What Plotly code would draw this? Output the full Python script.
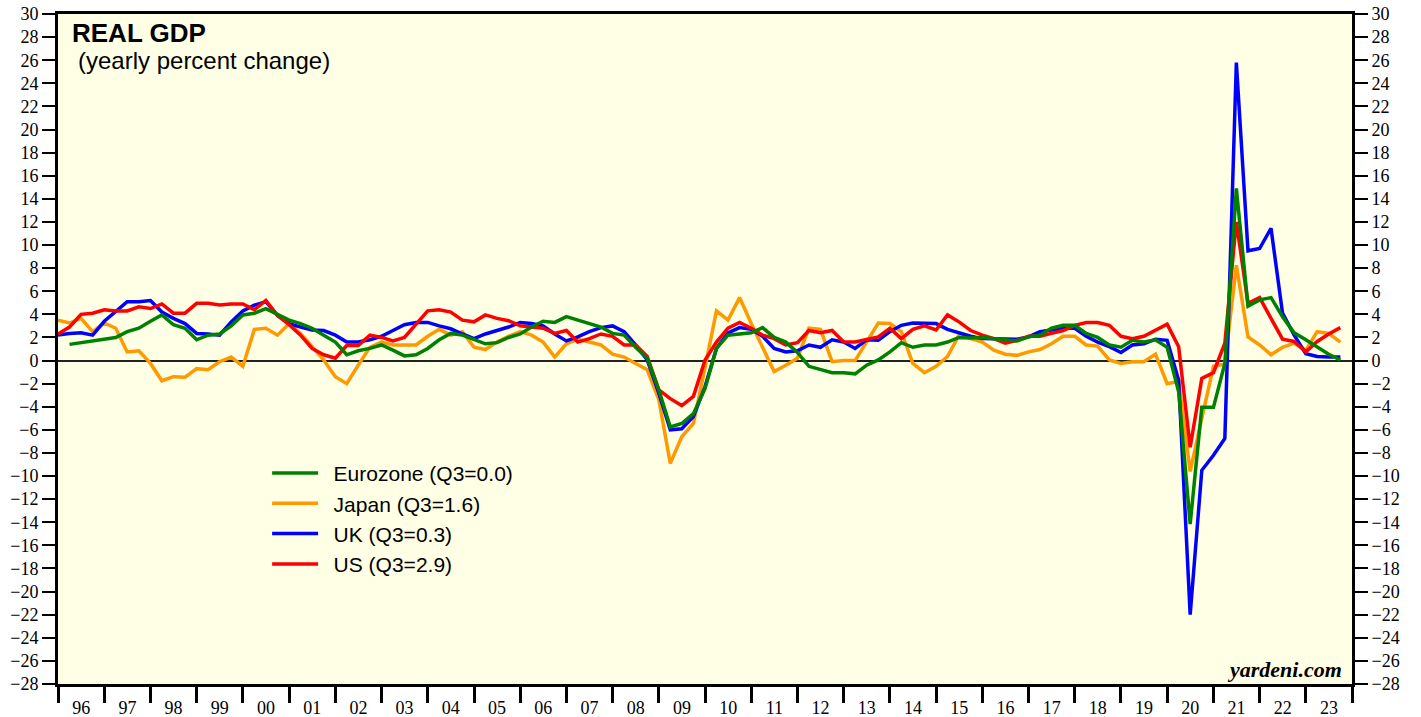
import plotly.graph_objects as go
import pandas as pd

# Quarterly observations, Q4 1995 .. Q3 2023, plotted at the end of each quarter
quarter_ends = pd.date_range("1996-01-01", periods=112, freq="QS")

series_names = ["Eurozone (Q3=0.0)", "Japan (Q3=1.6)", "UK (Q3=0.3)", "US (Q3=2.9)"]
series_colors = ["#008000", "#FF9900", "#0000FF", "#FF0000"]

eurozone = [None,
    1.4, 1.55, 1.65, 1.8, 2.0, 2.5, 2.8, 3.4, 3.95, 3.1, 2.8, 1.8, 2.2, 2.3, 3.0, 3.95,
    4.1, 4.5, 4.0, 3.5, 3.2, 2.8, 2.2, 1.6, 0.5, 0.85, 1.05, 1.35, 0.9, 0.4, 0.5, 1.05,
    1.8, 2.35, 2.2, 1.85, 1.45, 1.55, 2.0, 2.3, 2.9, 3.4, 3.3, 3.8, 3.5, 3.15, 2.9, 2.35,
    2.2, 1.15, 0.2, -2.55, -5.75, -5.45, -4.6, -2.4, 1.05, 2.2, 2.3, 2.4, 2.85, 2.0, 1.6, 0.7,
    -0.5, -0.8, -1.05, -1.05, -1.15, -0.4, 0.05, 0.75, 1.55, 1.15, 1.35, 1.35, 1.6, 2.0, 1.95, 2.0,
    1.9, 1.85, 1.7, 2.05, 2.2, 2.8, 3.05, 3.05, 2.35, 2.0, 1.35, 1.15, 1.75, 1.6, 1.8, 1.15,
    -2.7, -14.15, -4.05, -4.05, -0.25, 14.9, 4.7, 5.25, 5.45, 3.8, 2.4, 1.8, 1.2, 0.55, 0.05]

japan = [3.5,
    3.25, 3.65, 2.5, 3.25, 2.8, 0.75, 0.85, -0.25, -1.75, -1.4, -1.45, -0.7, -0.8, -0.1, 0.3, -0.5,
    2.7, 2.8, 2.2, 3.2, 2.35, 1.2, 0.05, -1.4, -2.0, -0.4, 1.15, 1.6, 1.35, 1.35, 1.35, 2.1,
    2.7, 2.2, 2.5, 1.15, 0.95, 1.6, 2.1, 2.5, 2.2, 1.6, 0.3, 1.45, 1.85, 1.6, 1.35, 0.55,
    0.3, -0.25, -0.8, -3.4, -8.9, -6.6, -5.45, -0.6, 4.3, 3.5, 5.45, 3.2, 1.15, -0.95, -0.4, 0.2,
    2.8, 2.7, -0.1, 0.0, 0.0, 1.6, 3.25, 3.2, 2.5, -0.25, -1.05, -0.5, 0.35, 2.2, 1.9, 1.6,
    0.9, 0.55, 0.45, 0.75, 0.95, 1.45, 2.1, 2.1, 1.35, 1.25, 0.05, -0.25, -0.1, -0.1, 0.55, -2.0,
    -1.8, -9.6, -5.0, -0.5, -0.3, 8.25, 2.05, 1.35, 0.5, 1.15, 1.5, 0.9, 2.5, 2.35, 1.6]

uk = [2.2,
    2.35, 2.4, 2.2, 3.4, 4.2, 5.1, 5.1, 5.2, 4.2, 3.65, 3.2, 2.35, 2.3, 2.2, 3.35, 4.3,
    4.8, 5.1, 3.9, 3.2, 2.9, 2.65, 2.6, 2.2, 1.6, 1.6, 1.8, 2.1, 2.6, 3.1, 3.3, 3.3,
    3.0, 2.75, 2.3, 1.9, 2.3, 2.6, 2.9, 3.3, 3.2, 3.0, 2.3, 1.7, 2.05, 2.5, 2.85, 3.0,
    2.5, 1.35, 0.05, -2.85, -6.0, -5.9, -4.85, -2.25, 1.05, 2.4, 2.85, 2.7, 2.1, 1.05, 0.75, 0.85,
    1.35, 1.15, 1.8, 1.6, 1.05, 1.8, 1.75, 2.5, 3.05, 3.25, 3.2, 3.2, 2.7, 2.4, 2.1, 1.9,
    1.9, 1.9, 1.85, 2.05, 2.5, 2.65, 2.8, 2.8, 2.1, 1.6, 1.2, 0.7, 1.35, 1.45, 1.85, 1.75,
    -1.7, -22.0, -9.5, -8.2, -6.75, 25.8, 9.5, 9.7, 11.45, 4.1, 2.2, 0.6, 0.35, 0.3, 0.3]

us = [2.3,
    2.9, 4.0, 4.1, 4.4, 4.3, 4.3, 4.65, 4.5, 4.9, 4.1, 4.1, 4.95, 4.95, 4.8, 4.9, 4.9,
    4.4, 5.2, 3.9, 3.1, 2.2, 1.05, 0.5, 0.2, 1.3, 1.3, 2.2, 2.0, 1.7, 2.0, 3.1, 4.3,
    4.4, 4.2, 3.5, 3.35, 3.95, 3.65, 3.45, 3.0, 2.9, 2.8, 2.35, 2.6, 1.6, 1.9, 2.3, 2.1,
    1.35, 1.35, 0.35, -2.55, -3.3, -3.9, -3.1, 0.05, 1.6, 2.8, 3.3, 2.8, 2.2, 1.9, 1.35, 1.55,
    2.6, 2.4, 2.6, 1.6, 1.6, 1.8, 2.05, 2.8, 1.9, 2.7, 3.0, 2.65, 3.95, 3.35, 2.6, 2.2,
    1.9, 1.5, 1.75, 2.1, 2.1, 2.35, 2.6, 3.05, 3.3, 3.3, 3.05, 2.1, 1.9, 2.1, 2.6, 3.15,
    1.2, -7.5, -1.55, -1.05, 1.5, 12.0, 4.95, 5.45, 3.65, 1.85, 1.65, 0.75, 1.65, 2.3, 2.85]

y_ticks = list(range(-28, 31, 2))
y_range = [-28, 30]
x_range = ["1996-01-01", "2024-01-01"]

fig = go.Figure()

all_values = [eurozone, japan, uk, us]
draw_order = [1, 2, 3, 0]  # Japan, UK, US below; Eurozone on top
for k in draw_order:
    fig.add_trace(go.Scatter(
        x=quarter_ends, y=all_values[k], name="\u2002" + series_names[k], mode="lines",
        line=dict(color=series_colors[k], width=3.5), legendrank=k + 1,
        connectgaps=False, hoverinfo="x+y+name"))

# helper trace so the right-hand axis is drawn
fig.add_trace(go.Scatter(x=[quarter_ends[0]], y=[0], yaxis="y2", mode="lines",
                         line=dict(width=0), showlegend=False, hoverinfo="skip"))

tick_font = dict(family="Liberation Serif, Times New Roman, serif", size=18, color="black")

fig.update_layout(
    width=1421, height=717,
    margin=dict(l=58, r=69, t=14, b=33, autoexpand=False),
    paper_bgcolor="white", plot_bgcolor="#FFFFE6",
    showlegend=True,
    legend=dict(x=0.1616, y=0.345, xanchor="left", yanchor="top",
                bgcolor="rgba(0,0,0,0)", borderwidth=0,
                font=dict(family="Liberation Sans, Arial, sans-serif", size=21, color="black"),
                itemwidth=46, tracegroupgap=0),
    xaxis=dict(type="date", range=x_range, dtick="M12", tick0="1996-01-01",
               ticklabelmode="period", tickformat="%y", automargin=False,
               ticks="outside", ticklen=16, tickwidth=3, tickcolor="black",
               ticklabelstandoff=-11,
               showline=True, linewidth=3, linecolor="black", mirror=True,
               showgrid=False, zeroline=False, tickfont=tick_font),
    yaxis=dict(range=y_range, tickvals=y_ticks, ticks="outside", ticklen=13, tickwidth=2,
               tickcolor="black", showline=True, linewidth=3, linecolor="black", mirror=True,
               showgrid=False, zeroline=True, zerolinecolor="#222222", zerolinewidth=1.5,
               tickfont=tick_font, automargin=False),
    yaxis2=dict(range=y_range, tickvals=y_ticks, overlaying="y", side="right",
                ticks="outside", ticklen=13, tickwidth=2, tickcolor="black",
                showline=True, linewidth=3, linecolor="black", automargin=False,
                showgrid=False, zeroline=False, tickfont=tick_font),
    annotations=[
        dict(text="<b>REAL GDP</b>", xref="paper", yref="paper", x=0.009, y=0.972,
             xanchor="left", yanchor="middle", showarrow=False,
             font=dict(family="Liberation Sans, Arial, sans-serif", size=26, color="black")),
        dict(text="(yearly percent change)", xref="paper", yref="paper", x=0.014, y=0.931,
             xanchor="left", yanchor="middle", showarrow=False,
             font=dict(family="Liberation Sans, Arial, sans-serif", size=24, color="black")),
        dict(text="<b><i>yardeni.com</i></b>", xref="paper", yref="paper", x=0.994, y=0.021,
             xanchor="right", yanchor="middle", showarrow=False,
             font=dict(family="Liberation Serif, Times New Roman, serif", size=22, color="black")),
    ],
)

# remove the page's default 8px body margin so the figure fills the window exactly
fig.write_html("out.html", config={"displayModeBar": False},
               post_script="document.body.style.margin='0';document.body.style.overflow='hidden';")
